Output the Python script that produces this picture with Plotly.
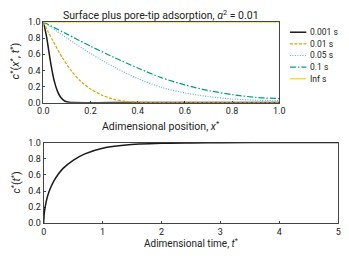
import plotly.graph_objects as go

# ---------------- data ----------------
series_names = ["0.001 s", "0.01 s", "0.05 s", "0.1 s", "Inf s"]

x_0001 = [0.0, 0.0135, 0.023, 0.033, 0.046, 0.06, 0.075, 0.09, 0.11, 0.13, 0.3, 1.0]
c_0001 = [1.0, 0.82, 0.64, 0.46, 0.27, 0.14, 0.06, 0.02, 0.004, 0.0, 0.0, 0.0]

x_001 = [0.0, 0.02, 0.04, 0.08, 0.12, 0.16, 0.2, 0.25, 0.3, 0.35, 0.4, 0.5, 1.0]
c_001 = [1.0, 0.88, 0.77, 0.56, 0.39, 0.26, 0.17, 0.09, 0.04, 0.015, 0.005, 0.0, 0.0]

x_005 = [0.0, 0.1, 0.2, 0.3, 0.4, 0.5, 0.6, 0.7, 0.8, 0.9, 1.0]
c_005 = [1.0, 0.80, 0.61, 0.44, 0.30, 0.19, 0.12, 0.075, 0.045, 0.03, 0.025]

x_01 = [0.0, 0.1, 0.2, 0.3, 0.4, 0.5, 0.6, 0.7, 0.8, 0.9, 1.0]
c_01 = [1.0, 0.85, 0.70, 0.56, 0.43, 0.31, 0.22, 0.15, 0.10, 0.065, 0.05]

x_inf = [0.0, 1.0]
c_inf = [1.0, 1.0]

t_vals = [0, 0.01, 0.03, 0.06, 0.1, 0.17, 0.25, 0.33, 0.5, 0.7, 1.0, 1.4, 2.0, 2.5, 3.0, 4.0, 5.0]
c_t = [0, 0.12, 0.22, 0.32, 0.41, 0.52, 0.61, 0.68, 0.78, 0.86, 0.93, 0.97, 0.99, 0.995, 0.998, 1.0, 1.0]

x_ticks_top = [0.0, 0.2, 0.4, 0.6, 0.8, 1.0]
y_ticks = [0.0, 0.2, 0.4, 0.6, 0.8, 1.0]
x_ticks_bottom = [0, 1, 2, 3, 4, 5]

# ---------------- styles ----------------
W, H = 349, 262
FONT = "Roboto"
colors = ["#1a1a1a", "#E69F00", "#56B4E9", "#009E73", "#F0E442"]
dashes = ["solid", "3px,1.5px", "1px,1.5px", "6px,2px,1.5px,2px", "solid"]
widths = [1.5, 1.2, 1.2, 1.2, 1.5]

def px_x(p):
    return p / W

def px_y(p):
    return 1 - p / H

fig = go.Figure()

top_x = [x_0001, x_001, x_005, x_01, x_inf]
top_c = [c_0001, c_001, c_005, c_01, c_inf]
for i in range(5):
    fig.add_trace(go.Scatter(
        x=top_x[i], y=top_c[i], mode="lines", name=series_names[i],
        line=dict(color=colors[i], dash=dashes[i], width=widths[i],
                  shape="spline", smoothing=0.8),
        xaxis="x", yaxis="y", showlegend=False))

fig.add_trace(go.Scatter(
    x=t_vals, y=c_t, mode="lines", name="c*(t*)",
    line=dict(color="#1a1a1a", width=1.5, shape="spline", smoothing=0.8),
    xaxis="x2", yaxis="y2", showlegend=False))

axis_common = dict(
    showgrid=False, zeroline=False, showline=True, mirror=True,
    linecolor="#444", linewidth=1, ticks="inside", ticklen=2,
    tickcolor="#444", tickfont=dict(family=FONT, size=9, color="#222"),
    layer="below traces", ticklabeloverflow="allow")

fig.update_layout(
    width=W, height=H,
    margin=dict(l=0, r=0, t=0, b=0),
    paper_bgcolor="white", plot_bgcolor="white",
    font=dict(family=FONT, color="#222"),
    xaxis=dict(domain=[px_x(38.7), px_x(283)], range=[0, 1],
               tickvals=x_ticks_top, tickformat=".1f", anchor="y", **axis_common),
    yaxis=dict(domain=[px_y(101.5), px_y(17.7)], range=[0, 1],
               tickvals=y_ticks, tickformat=".1f", anchor="x", **axis_common),
    xaxis2=dict(domain=[px_x(39), px_x(344)], range=[0, 5],
                tickvals=x_ticks_bottom, anchor="y2", **axis_common),
    yaxis2=dict(domain=[px_y(227), px_y(143)], range=[0, 1],
                tickvals=y_ticks, tickformat=".1f", anchor="x2", **axis_common),
)

ann = [
    dict(text="Surface plus pore-tip adsorption, <i>α</i><sup>2</sup> = 0.01",
         x=px_x(161), y=px_y(10), font=dict(size=10.5)),
    dict(text="Adimensional position, <i>x</i><sup>*</sup>",
         x=px_x(161), y=px_y(126), font=dict(size=10.5)),
    dict(text="Adimensional time, <i>t</i><sup>*</sup>",
         x=px_x(191.5), y=px_y(247), font=dict(size=10)),
    dict(text="<i>c</i><sup>*</sup>(<i>x</i><sup>*</sup>, <i>t</i><sup>*</sup>)",
         x=px_x(10), y=px_y(58), textangle=-90, font=dict(size=11)),
    dict(text="<i>c</i><sup>*</sup>(<i>t</i><sup>*</sup>)",
         x=px_x(10), y=px_y(185), textangle=-90, font=dict(size=10.5)),
]
annotations = []
for a in ann:
    base = dict(xref="paper", yref="paper", showarrow=False,
                xanchor="center", yanchor="middle")
    base.update(a)
    base["font"] = dict(family=FONT, color="#222", **a["font"])
    annotations.append(base)

# manual compact legend (layout only)
leg_x0, leg_x1, leg_tx, leg_y0, leg_dy = 294, 311, 313, 28.3, 12.1
shapes = []
for i, name in enumerate(series_names):
    yy = leg_y0 + i * leg_dy
    shapes.append(dict(type="line", xref="paper", yref="paper",
                       x0=px_x(leg_x0), x1=px_x(leg_x1), y0=px_y(yy), y1=px_y(yy),
                       line=dict(color=colors[i], dash=dashes[i], width=widths[i])))
    annotations.append(dict(text=name, xref="paper", yref="paper", showarrow=False,
                            x=px_x(leg_tx), y=px_y(yy), xanchor="left", yanchor="middle",
                            font=dict(family=FONT, size=8.5, color="#222")))

fig.update_layout(annotations=annotations, shapes=shapes)

fig.write_html("out.html",
               config={"displayModeBar": False, "staticPlot": True},
               post_script="document.body.style.margin='0px';"
                           "document.body.style.padding='0px';")
